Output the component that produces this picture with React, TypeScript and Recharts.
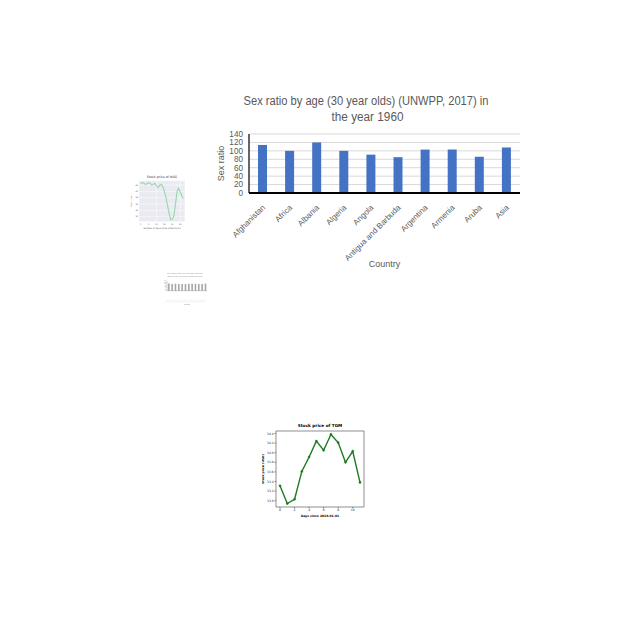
import React from 'react';
import {
  BarChart, Bar, LineChart, Line, XAxis, YAxis, CartesianGrid, ReferenceArea
} from 'recharts';

// main chart: sex ratio of 30 year olds, 1960
const countries = [
  'Afghanistan', 'Africa', 'Albania', 'Algeria', 'Angola',
  'Antigua and Barbuda', 'Argentina', 'Armenia', 'Aruba', 'Asia'
];
const sexRatio = [114, 100, 120, 100, 91, 85, 103, 103, 86, 108];
const ratioTicks = [0, 20, 40, 60, 80, 100, 120, 140];

// small line chart: stock price of TGM
const tgmDays = [0, 1, 2, 3, 4, 5, 6, 7, 8, 9, 10, 11];
const tgmPrice = [33.31, 32.94, 33.03, 33.61, 33.91, 34.24, 34.05, 34.38, 34.21, 33.8, 34.03, 33.38];
const tgmXTicks = [0, 2, 4, 6, 8, 10];
const tgmYTicks = [33.0, 33.2, 33.4, 33.6, 33.8, 34.0, 34.2, 34.4];

// small seaborn-style line chart: stock price of NGG
const nggPrice = [
  42.5, 42.8, 42.6, 42.2, 42.4, 42.8, 42.6, 42.0, 42.2, 42.6, 41.8, 41.2, 42.0, 42.2,
  41.6, 40.0, 38.0, 35.5, 33.0, 31.0, 31.2, 32.2, 36.0, 40.0, 41.0, 39.8, 38.5, 37.8
];
const nggXTicks = [0, 5, 10, 15, 20, 25];
const nggYTicks = [32, 34, 36, 38, 40, 42];

// tiny grey bar chart
const miniCountries = ['A', 'B', 'C', 'D', 'E', 'F', 'G', 'H', 'I', 'J', 'K', 'L'];
const miniRatio = [105, 98, 101, 97, 95, 96, 100, 99, 101, 96, 97, 103];

const FONT = '"Liberation Sans", Arial, sans-serif';
const GREY = '#595959';

const mainData = countries.map((c, i) => ({ country: c, ratio: sexRatio[i] }));
const tgmData = tgmDays.map((d, i) => ({ day: d, price: tgmPrice[i] }));
const nggData = nggPrice.map((p, i) => ({ day: i, price: p }));
const miniData = miniCountries.map((c, i) => ({ country: c, ratio: miniRatio[i] }));

const CountryTick = (props: any) => {
  const { x, y, payload } = props;
  const tx = x + 3;
  const ty = y + 7;
  return (
    <text
      x={tx} y={ty} transform={`rotate(-45 ${tx} ${ty})`}
      textAnchor="end" fontSize={8} fill={GREY} fontFamily={FONT}
    >
      {payload.value}
    </text>
  );
};

const MiniTick = (props: any) => {
  const { x, y } = props;
  return (
    <line x1={x} y1={y + 1} x2={x - 3} y2={y + 4} stroke="#d0d0d0" strokeWidth={0.5} />
  );
};

const SexRatioLabel = (props: any) => {
  const vb = props.viewBox;
  const cx = vb.x + 12;
  const cy = vb.y + vb.height / 2;
  return (
    <text
      x={cx} y={cy} transform={`rotate(-90 ${cx} ${cy})`}
      textAnchor="middle" dominantBaseline="middle"
      fontSize={9} fill={GREY} fontFamily={FONT}
    >
      Sex ratio
    </text>
  );
};

export default function App() {
  return (
    <div style={{
      position: 'fixed', left: 0, top: 0, width: 640, height: 640,
      background: '#fff', overflow: 'hidden'
    }}>
      {/* main chart title */}
      <svg style={{ position: 'absolute', left: 166, top: 88 }} width={400} height={36}>
        <text x={200} y={16.5} textAnchor="middle" fontSize={12.5} fill={GREY} fontFamily={FONT}
          textLength={245} lengthAdjust="spacingAndGlyphs">
          Sex ratio by age (30 year olds) (UNWPP, 2017) in
        </text>
        <text x={201.5} y={33} textAnchor="middle" fontSize={12.5} fill={GREY} fontFamily={FONT}
          textLength={72} lengthAdjust="spacingAndGlyphs">
          the year 1960
        </text>
      </svg>

      <div style={{ position: 'absolute', left: 200, top: 125 }}>
        <BarChart
          width={330} height={150} data={mainData}
          margin={{ top: 9, right: 10, left: 10, bottom: 0 }}
        >
          <CartesianGrid vertical={false} stroke="#d9d9d9" />
          <XAxis
            dataKey="country" interval={0} height={82}
            axisLine={{ stroke: '#000', strokeWidth: 2 }} tickLine={false}
            tick={<CountryTick />}
            label={{ value: 'Country', position: 'insideBottom', offset: 8, fontSize: 9, fill: GREY, fontFamily: FONT }}
          />
          <YAxis
            width={39} domain={[0, 140]} ticks={ratioTicks} interval={0}
            axisLine={{ stroke: '#000', strokeWidth: 1.2 }} tickLine={false}
            tickSize={0} tickMargin={6}
            tick={{ fontSize: 8.2, fill: GREY, fontFamily: FONT }}
            label={<SexRatioLabel />}
          />
          <Bar dataKey="ratio" fill="#4472C4" barSize={9} isAnimationActive={false} />
        </BarChart>
      </div>

      {/* seaborn style line chart */}
      <svg style={{ position: 'absolute', left: 130, top: 172 }} width={60} height={10}>
        <text x={32} y={6} textAnchor="middle" fontSize={3.2} fill="#333" fontFamily="DejaVu Sans">
          Stock price of NGG
        </text>
      </svg>
      <div style={{ position: 'absolute', left: 130, top: 172 }}>
        <LineChart
          width={58} height={57} data={nggData}
          margin={{ top: 8.7, right: 3, left: 0, bottom: 0 }}
        >
          <CartesianGrid fill="#EAEAF2" stroke="#fff" strokeWidth={0.5} />
          <XAxis
            dataKey="day" type="number" domain={[-1, 28]} ticks={nggXTicks} height={7.3}
            axisLine={false} tickLine={false} tickSize={0} tickMargin={1.5}
            tick={{ fontSize: 2, fill: '#555', fontFamily: 'DejaVu Sans' }}
            label={{ value: 'Number of days since 2018-01-01', position: 'insideBottom', offset: 0.5, fontSize: 2.2, fill: '#555', fontFamily: 'DejaVu Sans' }}
          />
          <YAxis
            width={9} domain={[30.4, 43.4]} ticks={nggYTicks} interval={0}
            axisLine={false} tickLine={false} tickSize={0} tickMargin={1}
            tick={{ fontSize: 2, fill: '#555', fontFamily: 'DejaVu Sans' }}
            label={{ value: 'Stock price', angle: -90, position: 'insideLeft', offset: 1, fontSize: 2, fill: '#555', fontFamily: 'DejaVu Sans', style: { textAnchor: 'middle' } }}
          />
          <Line
            dataKey="price" type="linear" stroke="#9ad6a9" strokeWidth={1.1}
            dot={false} isAnimationActive={false}
          />
        </LineChart>
      </div>

      {/* tiny grey bar chart */}
      <svg style={{ position: 'absolute', left: 160, top: 270 }} width={50} height={10}>
        <text x={25} y={4} textAnchor="middle" fontSize={2} fill="#888" fontFamily={FONT}>
          Sex ratio by age (30 year olds) (UNWPP,
        </text>
        <text x={25} y={7} textAnchor="middle" fontSize={2} fill="#888" fontFamily={FONT}>
          2017) in the year 1960 (female per 100)
        </text>
      </svg>
      <div style={{ position: 'absolute', left: 160, top: 270 }}>
        <BarChart
          width={50} height={35} data={miniData}
          margin={{ top: 11, right: 3, left: 0, bottom: 0 }}
        >
          <XAxis
            dataKey="country" interval={0} height={14.3}
            axisLine={{ stroke: '#999', strokeWidth: 0.5 }} tickLine={false}
            tick={<MiniTick />}
            label={{ value: 'Country', position: 'insideBottom', offset: 0, fontSize: 1.8, fill: '#888', fontFamily: FONT }}
          />
          <YAxis
            width={7} domain={[0, 140]} ticks={ratioTicks} interval={0}
            axisLine={{ stroke: '#999', strokeWidth: 0.5 }} tickLine={false}
            tickSize={0} tickMargin={0.8}
            tick={{ fontSize: 1.2, fill: '#888', fontFamily: FONT }}
          />
          <Bar dataKey="ratio" fill="#a6a6a6" barSize={1.6} isAnimationActive={false} />
        </BarChart>
      </div>

      {/* matplotlib style line chart */}
      <svg style={{ position: 'absolute', left: 262, top: 420 }} width={106} height={10}>
        <text x={58} y={7} textAnchor="middle" fontSize={4.2} fontWeight="bold" fill="#000" fontFamily="DejaVu Sans">
          Stock price of TGM
        </text>
      </svg>
      <div style={{ position: 'absolute', left: 262, top: 420 }}>
        <LineChart
          width={106} height={98} data={tgmData}
          margin={{ top: 11, right: 4, left: 0, bottom: 0 }}
        >
          <ReferenceArea
            x1={-0.55} x2={11.55} y1={32.868} y2={34.452}
            fill="none" stroke="#444" strokeWidth={0.6} ifOverflow="extendDomain"
          />
          <XAxis
            dataKey="day" type="number" domain={[-0.55, 11.55]} ticks={tgmXTicks} height={11}
            axisLine={false} tickLine={{ stroke: '#222', strokeWidth: 0.5 }} tickSize={1.5} tickMargin={0.8}
            tick={{ fontSize: 3, fill: '#222', fontFamily: 'DejaVu Sans' }}
            label={{ value: 'Days since 2019-01-01', position: 'insideBottom', offset: 1, fontSize: 3, fontWeight: 'bold', fill: '#000', fontFamily: 'DejaVu Sans' }}
          />
          <YAxis
            width={14} domain={[32.868, 34.452]} ticks={tgmYTicks} interval={0}
            axisLine={false} tickLine={{ stroke: '#222', strokeWidth: 0.5 }} tickSize={1.5} tickMargin={0.8}
            tickFormatter={(v: number) => v.toFixed(1)}
            tick={{ fontSize: 3, fill: '#222', fontFamily: 'DejaVu Sans' }}
            label={{ value: 'Stock price (USD)', angle: -90, position: 'insideLeft', offset: 1, fontSize: 3, fontWeight: 'bold', fill: '#000', fontFamily: 'DejaVu Sans', style: { textAnchor: 'middle' } }}
          />
          <Line
            dataKey="price" type="linear" stroke="#1f7a1f" strokeWidth={1.4}
            dot={{ r: 1.1, fill: '#1f7a1f', stroke: '#1f7a1f', strokeWidth: 0.4 }}
            isAnimationActive={false}
          />
        </LineChart>
      </div>
    </div>
  );
}
